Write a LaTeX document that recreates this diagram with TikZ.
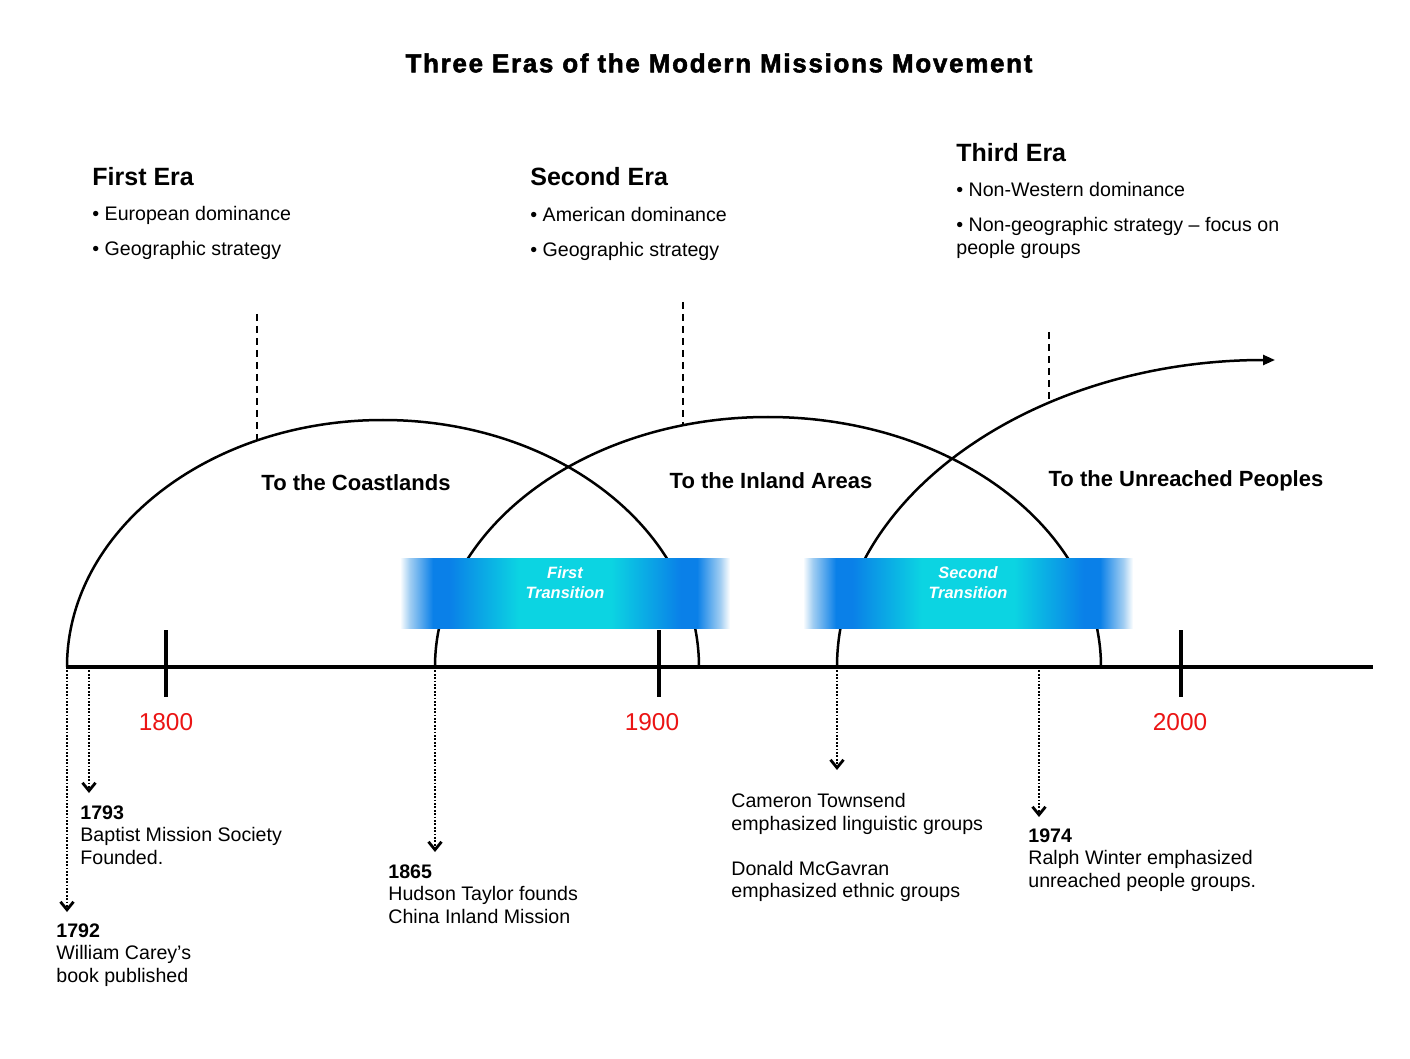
\documentclass[tikz,border=0pt]{standalone}
\usepackage{fontspec}
\setmainfont{Liberation Sans}
\newfontfamily\titlefont[LetterSpace=6.5,BoldFeatures={FakeBold=2}]{Liberation Sans}
\usetikzlibrary{arrows.meta}

\definecolor{yearred}{RGB}{235,20,20}
\definecolor{bandblue}{RGB}{10,128,232}
\definecolor{bandcyan}{RGB}{12,212,226}
\definecolor{bandlight}{RGB}{160,205,242}

% horizontal fade: white edges, deep blue flanks, wide cyan centre
\pgfdeclarehorizontalshading{transband}{100bp}{%
  color(0bp)=(white); color(25bp)=(white);
  color(26.5bp)=(bandlight); color(30bp)=(bandblue); color(32.5bp)=(bandblue);
  color(43bp)=(bandcyan); color(57bp)=(bandcyan);
  color(67.5bp)=(bandblue); color(70bp)=(bandblue); color(73.5bp)=(bandlight);
  color(75bp)=(white); color(100bp)=(white)}

\begin{document}
\begin{tikzpicture}[x=0.5pt,y=-0.5pt,
  arcline/.style={line width=1.25pt},
  axisline/.style={line width=1.7pt},
  tickmark/.style={line width=2pt},
  eramarker/.style={line width=1.2pt, dash pattern=on 3.5pt off 2.5pt},
  eventarrow/.style={line width=0.9pt, dash pattern=on 0.9pt off 0.8pt,
    -{Straight Barb[length=4pt,width=6.5pt,line width=1.4pt]}},
  yearlabel/.style={text=yearred, font=\fontsize{12.2}{14}\selectfont},
  eraheading/.style={anchor=north west, inner sep=0pt, font=\bfseries\fontsize{12.5}{15}\selectfont},
  bullets/.style={anchor=north west, inner sep=0pt, align=left, font=\fontsize{9.8}{17.5}\selectfont},
  eventtext/.style={anchor=north west, inner sep=0pt, align=left, font=\fontsize{9.8}{11.25}\selectfont},
  arclabel/.style={font=\bfseries\fontsize{11}{13}\selectfont},
  transtext/.style={text=white, align=center, font=\bfseries\itshape\fontsize{8.2}{10}\selectfont},
  band/.style={shading=transband}
]
\useasboundingbox (0,0) rectangle (1410,1059);
\fill[white] (0,0) rectangle (1410,1059);

% title
\node[font=\titlefont\bfseries\fontsize{13}{16}\selectfont] (title) at (719,63)
  {Three Eras of the Modern Missions Movement};

% era headings and their bullet points
\node[eraheading] (era1) at (92,167) {First Era};
\node[bullets] (era1b) at (92,206) {• European dominance\\• Geographic strategy};
\node[eraheading] (era2) at (530,167) {Second Era};
\node[bullets] (era2b) at (530,207) {• American dominance\\• Geographic strategy};
\node[eraheading] (era3) at (956,143) {Third Era};
\node[eventtext] (era3b) at (956,182)
  {• Non-Western dominance\\[6.25pt]• Non-geographic strategy – focus on\\people groups};

% time axis and century ticks
\coordinate (axL) at (67,667);
\coordinate (axR) at (1373,667);
\draw[axisline] (axL) -- (axR);
\draw[tickmark] (166,630) -- (166,697);
\draw[tickmark] (659,630) -- (659,697);
\draw[tickmark] (1181,630) -- (1181,697);
\node[yearlabel] (y1800) at (166,722) {1800};
\node[yearlabel] (y1900) at (652,722) {1900};
\node[yearlabel] (y2000) at (1180,722) {2000};

% the three era arcs
\draw[arcline] (67,667) arc[start angle=180, end angle=360, x radius=316, y radius=247];
\draw[arcline] (435,667) arc[start angle=180, end angle=360, x radius=333, y radius=250];
\draw[arcline, -{Triangle[length=6pt,width=5pt]}]
  (837,667) arc[start angle=180, end angle=270, x radius=438, y radius=307];

% dashed era markers dropping onto the arcs
\coordinate (m1top) at (257,314);  \coordinate (m1arc) at (257,441);
\coordinate (m2top) at (683,302);  \coordinate (m2arc) at (683,425);
\coordinate (m3top) at (1049,332); \coordinate (m3arc) at (1049,403);
\draw[eramarker] (m1top) -- (m1arc);
\draw[eramarker] (m2top) -- (m2arc);
\draw[eramarker] (m3top) -- (m3arc);

% arc captions
\node[arclabel] (cap1) at (356,483) {To the Coastlands};
\node[arclabel] (cap2) at (771,481) {To the Inland Areas};
\node[arclabel] (cap3) at (1186,481) {To the Unreached Peoples};

% transition bands
\fill[band] (400,558) rectangle (730,628);
\fill[band] (803,558) rectangle (1133,628);
\node[transtext] (tr1) at (565,583) {First\\Transition};
\node[transtext] (tr2) at (968,583) {Second\\Transition};

% event notes
\node[eventtext] (n1792) at (56,923) {\textbf{1792}\\William Carey’s\\book published};
\node[eventtext] (n1793) at (80,805) {\textbf{1793}\\Baptist Mission Society\\Founded.};
\node[eventtext] (n1865) at (388,864) {\textbf{1865}\\Hudson Taylor founds\\China Inland Mission};
\node[eventtext] (nct) at (731,793)
  {Cameron Townsend\\emphasized linguistic groups\\[11.25pt]Donald McGavran\\emphasized ethnic groups};
\node[eventtext] (n1974) at (1028,828) {\textbf{1974}\\Ralph Winter emphasized\\unreached people groups.};

% dotted pointers from the axis down to the notes
\coordinate (a1792) at (67,667);   \coordinate (t1792) at (67,912);
\coordinate (a1793) at (89,667);   \coordinate (t1793) at (89,793);
\coordinate (a1865) at (435,667);  \coordinate (t1865) at (435,852);
\coordinate (act) at (837,667);    \coordinate (tct) at (837,770);
\coordinate (a1974) at (1039,667); \coordinate (t1974) at (1039,817);
\draw[eventarrow] (a1792) -- (t1792);
\draw[eventarrow] (a1793) -- (t1793);
\draw[eventarrow] (a1865) -- (t1865);
\draw[eventarrow] (act) -- (tct);
\draw[eventarrow] (a1974) -- (t1974);
\end{tikzpicture}
\end{document}
